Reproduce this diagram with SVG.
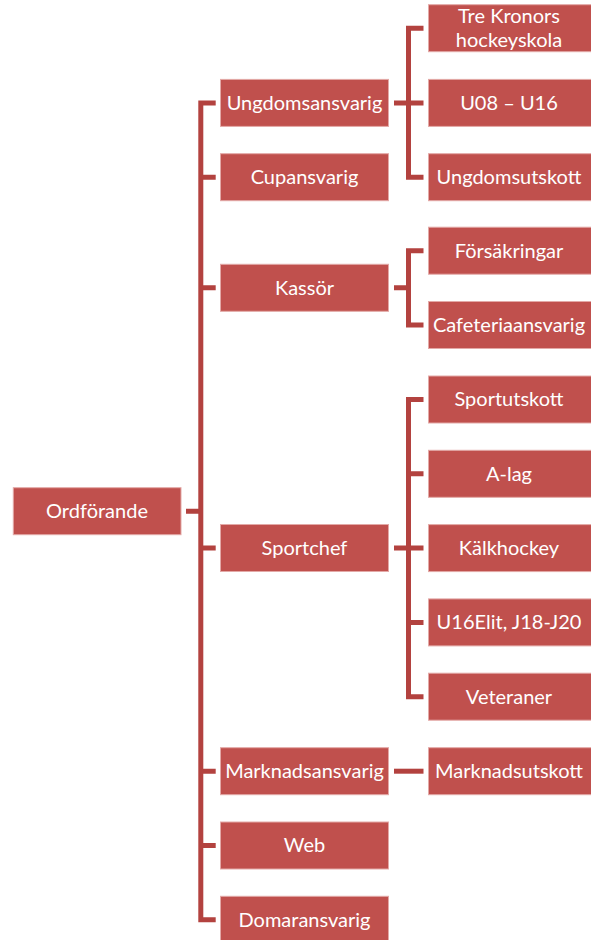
<svg xmlns="http://www.w3.org/2000/svg" width="591" height="940" viewBox="0 0 591 940">
<style>
.b{fill:#C0504D;stroke:#E3A9A7;stroke-width:1}
.t{fill:#FFFFFF;font-family:Lato,"Liberation Sans",sans-serif;font-size:20px;text-anchor:middle}
.c{fill:none;stroke:#B3423F;stroke-width:5;stroke-linejoin:miter}
</style>
<rect width="591" height="940" fill="#FFFFFF"/>
<g id="connectors">
<path class="c" d="M215.7,102.9 H200.8 V919.8 H215.7 M200.8,177.2 H215.7 M200.8,287.8 H215.7 M200.8,548 H215.7 M200.8,771.2 H215.7 M200.8,845.5 H215.7 M186,511.2 H200.8"/>
<path class="c" d="M394,102.9 H408.5 M423.5,28.2 H408.5 V177.2 H423.5 M408.5,102.9 H423.5"/>
<path class="c" d="M394,287.8 H408.5 M423.5,250.7 H408.5 V325 H423.5"/>
<path class="c" d="M394,548 H408.5 M423.5,399.5 H408.5 V696.7 H423.5 M408.5,473.8 H423.5 M408.5,548 H423.5 M408.5,622.4 H423.5"/>
<path class="c" d="M394,771.2 H423.5"/>
</g>
<g id="ordforande"><rect class="b" x="13.3" y="487.7" width="167.7" height="47"/><text class="t" x="97" y="518">Ordförande</text></g>
<g id="ungdomsansvarig"><rect class="b" x="220.5" y="79.4" width="168" height="47"/><text class="t" x="304.5" y="109.7">Ungdomsansvarig</text></g>
<g id="cupansvarig"><rect class="b" x="220.5" y="153.7" width="168" height="47"/><text class="t" x="304.5" y="184">Cupansvarig</text></g>
<g id="kassor"><rect class="b" x="220.5" y="264.3" width="168" height="47"/><text class="t" x="304.5" y="294.6">Kassör</text></g>
<g id="sportchef"><rect class="b" x="220.5" y="524.5" width="168" height="47"/><text class="t" x="304.5" y="554.8">Sportchef</text></g>
<g id="marknadsansvarig"><rect class="b" x="220.5" y="747.7" width="168" height="47"/><text class="t" x="304.5" y="778">Marknadsansvarig</text></g>
<g id="web"><rect class="b" x="220.5" y="822" width="168" height="47"/><text class="t" x="304.5" y="852.3">Web</text></g>
<g id="domaransvarig"><rect class="b" x="220.5" y="896.3" width="168" height="47"/><text class="t" x="304.5" y="926.6">Domaransvarig</text></g>
<g id="trekronors"><rect class="b" x="428.5" y="4.7" width="166" height="47"/><text class="t" x="509" y="22.8">Tre Kronors</text><text class="t" x="509" y="46.8">hockeyskola</text></g>
<g id="u08"><rect class="b" x="428.5" y="79.4" width="166" height="47"/><text class="t" x="509" y="109.7">U08 – U16</text></g>
<g id="ungdomsutskott"><rect class="b" x="428.5" y="153.7" width="166" height="47"/><text class="t" x="509" y="184">Ungdomsutskott</text></g>
<g id="forsakringar"><rect class="b" x="428.5" y="227.2" width="166" height="47"/><text class="t" x="509" y="257.5">Försäkringar</text></g>
<g id="cafeteria"><rect class="b" x="428.5" y="301.5" width="166" height="47"/><text class="t" x="509" y="331.8">Cafeteriaansvarig</text></g>
<g id="sportutskott"><rect class="b" x="428.5" y="376" width="166" height="47"/><text class="t" x="509" y="406.3">Sportutskott</text></g>
<g id="alag"><rect class="b" x="428.5" y="450.3" width="166" height="47"/><text class="t" x="509" y="480.6">A-lag</text></g>
<g id="kalkhockey"><rect class="b" x="428.5" y="524.6" width="166" height="47"/><text class="t" x="509" y="554.9">Kälkhockey</text></g>
<g id="u16elit"><rect class="b" x="428.5" y="598.9" width="166" height="47"/><text class="t" x="509" y="629.2">U16Elit, J18-J20</text></g>
<g id="veteraner"><rect class="b" x="428.5" y="673.2" width="166" height="47"/><text class="t" x="509" y="703.5">Veteraner</text></g>
<g id="marknadsutskott"><rect class="b" x="428.5" y="747.7" width="166" height="47"/><text class="t" x="509" y="778">Marknadsutskott</text></g>
</svg>
